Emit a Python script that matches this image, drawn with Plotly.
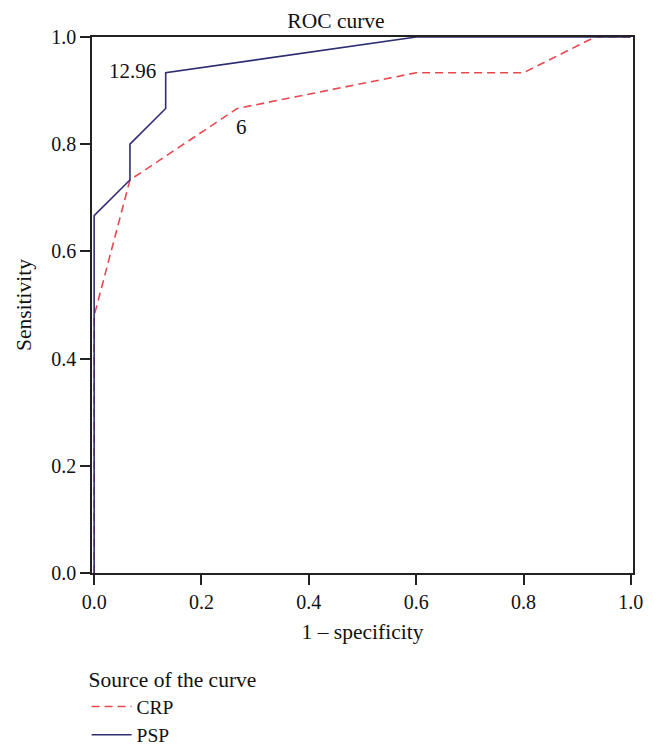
import plotly.graph_objects as go

# ROC data
psp_fpr = [0.0, 0.0, 0.0667, 0.0667, 0.1333, 0.1333, 0.6, 1.0]
psp_tpr = [0.0, 0.6667, 0.7333, 0.8, 0.8667, 0.9333, 1.0, 1.0]

crp_fpr = [0.0, 0.0, 0.0667, 0.2667, 0.6, 0.8, 0.9333, 1.0]
crp_tpr = [0.0, 0.48, 0.7333, 0.8667, 0.9333, 0.9333, 1.0, 1.0]

tick_vals = [0.0, 0.2, 0.4, 0.6, 0.8, 1.0]
tick_text = ["0.0", "0.2", "0.4", "0.6", "0.8", "1.0"]

labels = [("12.96", 0.071, 0.937), ("6", 0.275, 0.833)]

FONT = "Liberation Serif"
RED = "#e8474e"
NAVY = "#2f2e72"
TXT = "#111"

fig = go.Figure()
fig.add_trace(go.Scatter(x=crp_fpr, y=crp_tpr, mode="lines", name="CRP",
                         line=dict(color=RED, width=1.6, dash="8px,5px")))
fig.add_trace(go.Scatter(x=psp_fpr, y=psp_tpr, mode="lines", name="PSP",
                         line=dict(color=NAVY, width=1.6)))

for txt, x, y in labels:
    fig.add_annotation(x=x, y=y, text=txt, showarrow=False,
                       font=dict(family=FONT, size=21, color=TXT))

axis_common = dict(showgrid=False, zeroline=False, showline=True, linecolor="#222",
                   linewidth=1.5, mirror=True, ticks="outside", ticklen=10,
                   tickwidth=1.5, tickcolor="#222",
                   tickvals=tick_vals, ticktext=tick_text,
                   tickfont=dict(family=FONT, size=20, color=TXT))

fig.update_xaxes(range=[-0.004, 1.004], title=dict(text="1 – specificity",
                 font=dict(family=FONT, size=21.5, color=TXT), standoff=12),
                 **axis_common)
fig.update_yaxes(range=[0, 1], title=dict(text="Sensitivity",
                 font=dict(family=FONT, size=21.5, color=TXT), standoff=14),
                 **axis_common)

fig.update_layout(
    width=656, height=753,
    margin=dict(l=84, r=31, t=29, b=188, autoexpand=False),
    paper_bgcolor="white", plot_bgcolor="white",
    title=dict(text="ROC curve", x=0.5, xanchor="center", y=0.984, yanchor="middle",
               font=dict(family=FONT, size=21.5, color=TXT)),
    showlegend=True,
    legend=dict(title=dict(text="Source of the curve", side="top",
                           font=dict(family=FONT, size=21.5, color=TXT)),
                font=dict(family=FONT, size=19.5, color=TXT),
                xref="paper", x=-0.01, xanchor="left",
                yref="container", y=0.135, yanchor="top",
                itemwidth=40,
                bgcolor="rgba(0,0,0,0)", tracegroupgap=0),
)

fig.write_html("out.html")
